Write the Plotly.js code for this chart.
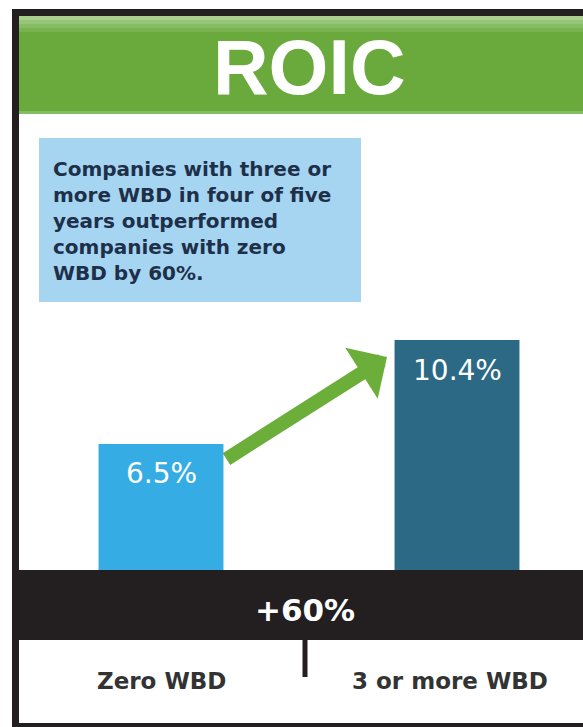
<!DOCTYPE html>
<html>
<head>
<meta charset="utf-8">
<script src="https://cdn.plot.ly/plotly-3.0.1.min.js"></script>
<style>
  html, body { margin: 0; padding: 0; background: #ffffff; }
  #chart { width: 583px; height: 727px; }
</style>
</head>
<body>
<div id="chart"></div>
<script>
// ---- data ----
const categories = ['Zero WBD', '3 or more WBD'];
const roic = [6.5, 10.4];
const valueLabels = ['6.5%', '10.4%'];
const headerTitle = 'ROIC';
const noteLines = [
  'Companies with three or',
  'more WBD in four of five',
  'years outperformed',
  'companies with zero',
  'WBD by 60%.'
];
const upliftLabel = '+60%';

// ---- layout helpers (pixel -> paper) ----
const W = 583, H = 727;
const px = x => x / W;
const py = y => 1 - y / H;

const trace = {
  type: 'bar',
  x: categories,
  y: roic,
  marker: { color: ['#35ADE4', '#2B6985'], line: { width: 0 } },
  hoverinfo: 'skip',
  textposition: 'none'
};

function rect(x0, y0, x1, y1, color, layer) {
  return {
    type: 'rect', xref: 'paper', yref: 'paper',
    x0: px(x0), x1: px(x1), y0: py(y1), y1: py(y0),
    fillcolor: color, line: { width: 0 }, layer: layer || 'below'
  };
}

const shapes = [
  rect(12, 9, 590, 727, '#231F20'),           // outer frame
  rect(19, 16, 590, 723, '#FFFFFF'),          // inner white
  rect(19, 16, 590, 114, '#6AA93C'),          // green header
  rect(19, 16, 590, 20, '#A8CF8C'),
  rect(19, 20, 590, 24, '#97C678'),
  rect(19, 24, 590, 28, '#86BC63'),
  rect(19, 28, 590, 32, '#78B350'),
  rect(19, 111, 590, 114, '#86BC63'),
  rect(39, 138, 361, 302, '#A6D5F2'),         // note box
  rect(19, 570, 590, 640, '#231F20', 'above'),// black band
  {
    type: 'line', xref: 'paper', yref: 'paper',
    x0: px(305), x1: px(305), y0: py(640), y1: py(677),
    line: { color: '#231F20', width: 5 }, layer: 'above'
  }
];

const annotations = [
  {
    xref: 'paper', yref: 'paper', x: px(309), y: py(67),
    xanchor: 'center', yanchor: 'middle', showarrow: false,
    text: headerTitle,
    font: { family: 'Liberation Sans', size: 77, color: '#FFFFFF', weight: 'bold' }
  },
  {
    xref: 'paper', yref: 'paper', x: px(51), y: py(221),
    xanchor: 'left', yanchor: 'middle', align: 'left', showarrow: false,
    text: noteLines.join('<br>'),
    font: { family: 'DejaVu Sans', size: 20, color: '#1E3049', weight: 'bold' }
  },
  {
    xref: 'paper', yref: 'paper', x: px(305), y: py(610),
    xanchor: 'center', yanchor: 'middle', showarrow: false,
    text: upliftLabel,
    font: { family: 'DejaVu Sans', size: 31, color: '#FFFFFF', weight: 'bold' }
  },
  {
    // growth arrow
    xref: 'paper', yref: 'paper', x: px(387), y: py(357),
    axref: 'pixel', ayref: 'pixel', ax: -162, ay: 103,
    text: '', showarrow: true,
    arrowhead: 1, arrowsize: 0.72, arrowwidth: 14, arrowcolor: '#6BAE3A',
    standoff: 0, startstandoff: 0
  }
];

// value labels inside bar tops
categories.forEach((c, i) => {
  annotations.push({
    xref: 'x', yref: 'y', x: c, y: roic[i],
    xanchor: 'center', yanchor: 'middle', yshift: -30, showarrow: false,
    text: valueLabels[i],
    font: { family: 'DejaVu Sans', size: 28, color: '#FFFFFF' }
  });
  // category labels below the band
  annotations.push({
    xref: 'x', yref: 'paper', x: c, y: py(681),
    xanchor: 'center', yanchor: 'middle', showarrow: false,
    xshift: i === 1 ? -7 : 0,
    text: c,
    font: { family: 'DejaVu Sans', size: 23, color: '#333333', weight: 'bold' }
  });
});

const layout = {
  width: W, height: H,
  margin: { l: 0, r: 0, t: 0, b: 0, pad: 0 },
  paper_bgcolor: '#FFFFFF',
  plot_bgcolor: 'rgba(0,0,0,0)',
  showlegend: false,
  bargap: 0.578,
  font: { family: 'DejaVu Sans' },
  xaxis: {
    domain: [0, 1],
    range: [-161 / 296, (W - 161) / 296],
    showgrid: false, zeroline: false, showline: false,
    showticklabels: false, ticks: '', fixedrange: true
  },
  yaxis: {
    domain: [py(617), py(140)],
    range: [0, (617 - 140) / 26.63],
    visible: false, showgrid: false, zeroline: false, fixedrange: true
  },
  shapes: shapes,
  annotations: annotations
};

Plotly.newPlot('chart', [trace], layout, { displayModeBar: false, staticPlot: true });
</script>
</body>
</html>
